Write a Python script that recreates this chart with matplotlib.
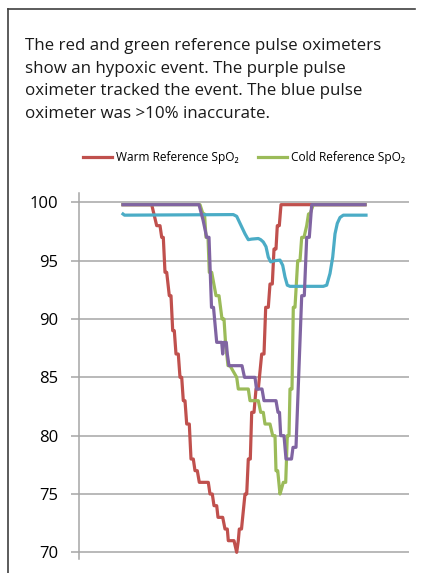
import matplotlib
matplotlib.use("Agg")
import matplotlib.pyplot as plt
from matplotlib.lines import Line2D

plt.rcParams['font.family'] = ['Open Sans', 'DejaVu Sans']

# ---- data (time in samples from start, SpO2 in %) ----
warm_t = [0, 28.7, 33.7, 37, 38.7, 40.3, 42, 43.7, 46.3, 48, 49.7, 51.3, 53, 55.3, 57, 58.7,
          60.3, 62, 63.7, 66.3, 68, 70.3, 72, 74.3, 76.3, 85.3, 87, 89.3, 91, 93.7, 95, 99.7,
          102, 104.3, 105.3, 111, 113.7, 115.3, 116.3, 118.5, 122, 123.7, 125.3, 127.3, 128.7,
          131, 133, 135.3, 138.7, 141, 142.7, 145.3, 147, 149.3, 151, 153, 154.3, 156.3, 158, 242]
warm_v = [99.8, 99.8, 98, 98, 97, 97, 94, 94, 92, 92, 89, 89, 87, 87, 85, 85,
          83, 83, 81, 81, 78, 78, 77, 77, 76, 76, 75, 75, 74, 74, 73, 73,
          72, 72, 71, 71, 70, 71, 72, 72, 75, 75, 78, 78, 82,
          82, 84, 84, 87, 87, 91, 91, 93, 93, 96, 96, 98, 98, 99.8, 99.8]

cold_t = [0, 77, 80, 81.5, 83, 85, 86.3, 88.7, 93, 96, 99, 101, 102.5, 105, 107,
          113.7, 115.3, 125.3, 127, 135.3, 137.7, 140.3, 142, 147, 149.7, 152, 153, 154.7,
          157, 158.7, 160.3, 162.7, 164.3, 166, 167, 169, 170.3, 172, 174.7, 177, 178.7,
          181, 183.7, 185.5, 187, 190.3, 242]
cold_v = [99.8, 99.8, 99, 99, 97, 97, 94, 94, 92, 92, 90, 90, 88, 86, 86,
          85, 84, 84, 83, 83, 82, 82, 81, 81, 80, 80, 77, 77,
          75, 75.5, 76, 76, 80, 80, 84, 84, 91, 91, 95, 95, 97,
          97, 98, 99, 99, 99.8, 99.8]

blue_t = [0, 1.5, 110.3, 113.7, 117, 122, 125.3, 128.7, 135.3, 137.7, 140.3, 143, 145.3,
          147.7, 152, 157, 159.7, 162, 164.3, 167, 200.3, 203.7, 207, 209.7, 212, 214.3,
          217, 220.3, 243]
blue_v = [99.0, 98.9, 98.95, 98.8, 98.2, 97.3, 96.8, 96.85, 96.9, 96.8, 96.6, 96.2, 95.3,
          94.9, 95.0, 95.05, 94.6, 93.6, 92.9, 92.8, 92.8, 92.9, 93.9, 95.3, 97.3, 98.2,
          98.7, 98.9, 98.9]

purple_t = [0, 76, 80, 83.7, 86, 88.5, 90.5, 93.7, 98.7, 99.7, 100.7, 103.3, 104.3, 106, 119,
            121.5, 132, 133.5, 139, 141, 153, 155, 156.5, 157.7, 161, 163, 168.5, 170, 173,
            178.7, 181.3, 183.7, 186.3, 188.7, 242]
purple_v = [99.8, 99.8, 98.5, 97, 97, 91, 91, 88, 88, 87, 88, 88, 87, 86, 86,
            85, 85, 84, 84, 83, 83, 82, 82, 80, 80, 78, 78, 79, 79,
            92, 92, 97, 97, 99.8, 99.8]

y_ticks = [70, 75, 80, 85, 90, 95, 100]
legend_labels = ["Warm Reference SpO\u2082", "Cold Reference SpO\u2082"]
caption = ["The red and green reference pulse oximeters",
           "show an hypoxic event. The purple pulse",
           "oximeter tracked the event. The blue pulse",
           "oximeter was >10% inaccurate."]

RED, GREEN, BLUE, PURPLE = "#c0504d", "#9bbb59", "#4bacc6", "#8064a2"

W, H = 425, 573
fig = plt.figure(figsize=(W / 100, H / 100), dpi=100)

def fx(px):
    return px / W

def fy(py):
    return 1 - py / H

ax = fig.add_axes([fx(79), fy(559), fx(409) - fx(79), fy(193) - fy(559)])
lw = 2.3
l_red, = ax.plot(warm_t, warm_v, color=RED, lw=lw, solid_joinstyle='round', zorder=3)
l_green, = ax.plot(cold_t, cold_v, color=GREEN, lw=lw, solid_joinstyle='round', zorder=4)
ax.plot(blue_t, blue_v, color=BLUE, lw=lw, solid_joinstyle='round', zorder=5)
ax.plot(purple_t, purple_v, color=PURPLE, lw=lw, solid_joinstyle='round', zorder=6)

ax.set_xlim(-44, 286)
ax.set_ylim(69.43, 100.8)
ax.set_yticks(y_ticks)
ax.set_xticks([])
ax.yaxis.grid(True, color="#a6a6a6", lw=1.1)
ax.set_axisbelow(True)
for s in ['top', 'right', 'bottom']:
    ax.spines[s].set_visible(False)
ax.spines['left'].set_color("#a6a6a6")
ax.spines['left'].set_linewidth(1.1)
ax.tick_params(axis='y', length=6, width=1.1, color="#a6a6a6", pad=9,
               labelsize=12, labelcolor="#000000")

# caption box lines
fig.add_artist(Line2D([fx(8), fx(415)], [fy(9), fy(9)], color="#404040", lw=1.2))
fig.add_artist(Line2D([fx(8), fx(8)], [fy(9), 0], color="#404040", lw=1.2))

for i, line in enumerate(caption):
    fig.text(fx(25), fy(50 + i * 22.7), line, fontsize=12.2, va='baseline', ha='left',
             color="#1a1a1a")

fig.legend([l_red, l_green], legend_labels, ncol=2, loc='center',
           bbox_to_anchor=(fx(244), fy(158)), frameon=False, fontsize=8.6,
           handlelength=2.4, handletextpad=0.35, columnspacing=1.65,
           borderpad=0, borderaxespad=0)

fig.savefig("out.png", dpi=100)
